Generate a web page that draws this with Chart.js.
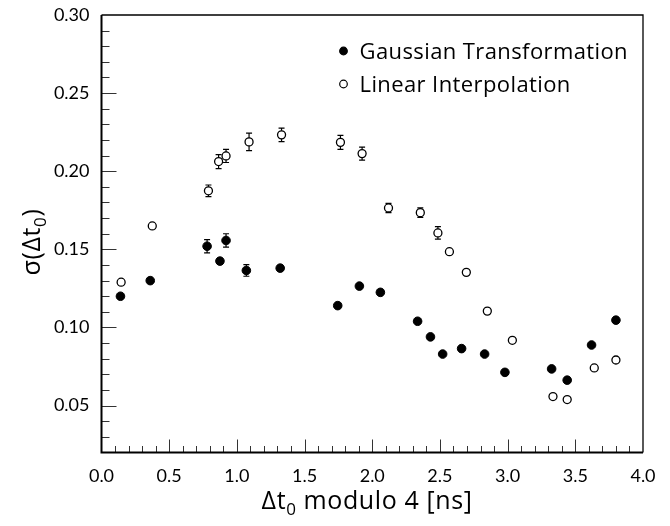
<!DOCTYPE html>
<html>
<head>
<meta charset="utf-8">
<script src="https://cdn.jsdelivr.net/npm/chart.js@4"></script>
<style>
  html, body { margin: 0; padding: 0; background: #fff; }
  #wrap { width: 670px; height: 526px; }
</style>
</head>
<body>
<div id="wrap"><canvas id="sigmaChart" width="670" height="526"></canvas></div>
<script>
// filled markers
const gaussX = [0.14, 0.36, 0.78, 0.875, 0.92, 1.07, 1.32, 1.745, 1.905, 2.06, 2.335, 2.43, 2.52, 2.66, 2.83, 2.98, 3.325, 3.44, 3.62, 3.80];
const gaussY = [0.120, 0.130, 0.152, 0.1425, 0.1557, 0.1365, 0.138, 0.114, 0.1265, 0.1225, 0.104, 0.094, 0.083, 0.0865, 0.083, 0.0713, 0.0735, 0.0663, 0.0888, 0.1047];
const gaussErr = [0.002, 0.002, 0.0043, 0.002, 0.0043, 0.0037, 0.002, 0.002, 0.002, 0.002, 0.002, 0.002, 0.002, 0.002, 0.002, 0.002, 0.002, 0.002, 0.002, 0.002];

// open markers
const linX = [0.145, 0.375, 0.79, 0.865, 0.92, 1.09, 1.33, 1.765, 1.925, 2.12, 2.355, 2.485, 2.57, 2.695, 2.85, 3.035, 3.335, 3.44, 3.64, 3.80];
const linY = [0.129, 0.165, 0.1875, 0.2062, 0.2098, 0.2188, 0.2233, 0.2185, 0.2113, 0.1765, 0.1735, 0.1605, 0.1485, 0.1353, 0.1105, 0.0918, 0.0558, 0.0539, 0.0741, 0.0792];
const linErr = [0.002, 0.0028, 0.0037, 0.0045, 0.0042, 0.0056, 0.0043, 0.0045, 0.0042, 0.003, 0.003, 0.004, 0.002, 0.002, 0.002, 0.002, 0.002, 0.002, 0.002, 0.002];

const seriesLabels = ['Gaussian Transformation', 'Linear Interpolation'];
const xTickValues = [0.0, 0.5, 1.0, 1.5, 2.0, 2.5, 3.0, 3.5, 4.0];
const yTickValues = [0.05, 0.10, 0.15, 0.20, 0.25, 0.30];

const TICK_FONT = 'Lato';
const TEXT_FONT = '"Open Sans"';

function toPoints(xs, ys, errs) {
    return xs.map((x, i) => ({ x: x, y: ys[i], err: errs[i] }));
}

// vertical error bars with caps, drawn under the markers
const errorBars = {
    id: 'errorBars',
    beforeDatasetsDraw(chart) {
        const { ctx, scales: { x, y } } = chart;
        ctx.save();
        ctx.strokeStyle = '#000';
        ctx.lineWidth = 1.2;
        chart.data.datasets.forEach(ds => {
            const r = ds.pointRadius;
            ds.data.forEach(p => {
                const px = x.getPixelForValue(p.x);
                const yTop = y.getPixelForValue(p.y + p.err);
                const yBot = y.getPixelForValue(p.y - p.err);
                if ((yBot - yTop) / 2 <= r + 0.5) return;
                ctx.beginPath();
                ctx.moveTo(px, yTop); ctx.lineTo(px, yBot);
                ctx.moveTo(px - 3, yTop); ctx.lineTo(px + 3, yTop);
                ctx.moveTo(px - 3, yBot); ctx.lineTo(px + 3, yBot);
                ctx.stroke();
            });
        });
        ctx.restore();
    }
};

// ROOT-like frame with inward ticks
const frameTicks = {
    id: 'frameTicks',
    beforeDatasetsDraw(chart) {
        const { ctx, chartArea: a, scales: { x, y } } = chart;
        ctx.save();
        ctx.strokeStyle = '#333';
        ctx.lineWidth = 1;
        for (let i = 1; i < 40; i++) {
            const px = Math.round(x.getPixelForValue(i / 10)) + 0.5;
            const len = i % 5 === 0 ? 13 : 6.5;
            ctx.beginPath(); ctx.moveTo(px, a.bottom); ctx.lineTo(px, a.bottom - len); ctx.stroke();
        }
        for (let i = 3; i < 30; i++) {
            const py = Math.round(y.getPixelForValue(i / 100)) + 0.5;
            const len = i % 5 === 0 ? 15 : 8;
            ctx.beginPath(); ctx.moveTo(a.left, py); ctx.lineTo(a.left + len, py); ctx.stroke();
        }
        ctx.strokeStyle = '#000';
        ctx.lineWidth = 1.3;
        ctx.beginPath();
        ctx.moveTo(a.left, a.top); ctx.lineTo(a.right, a.top); ctx.lineTo(a.right, a.bottom);
        ctx.stroke();
        ctx.lineWidth = 2;
        ctx.beginPath();
        ctx.moveTo(a.left, a.top); ctx.lineTo(a.left, a.bottom); ctx.lineTo(a.right, a.bottom);
        ctx.stroke();
        ctx.restore();
    }
};

// axis titles with subscripts + legend inside the frame
function drawPieces(ctx, pieces, x, y) {
    let cx = x;
    pieces.forEach(p => {
        ctx.font = p.size + 'px ' + TEXT_FONT;
        ctx.fillText(p.text, cx, y + (p.dy || 0));
        cx += ctx.measureText(p.text).width;
    });
}
function piecesWidth(ctx, pieces) {
    let w = 0;
    pieces.forEach(p => { ctx.font = p.size + 'px ' + TEXT_FONT; w += ctx.measureText(p.text).width; });
    return w;
}

const titlesLegend = {
    id: 'titlesLegend',
    afterDraw(chart) {
        const { ctx, chartArea: a } = chart;
        ctx.save();
        ctx.fillStyle = '#000';
        ctx.textBaseline = 'alphabetic';
        ctx.textAlign = 'left';
        ctx.letterSpacing = '0.6px';

        const xTitle = [
            { text: '\u0394t', size: 25 },
            { text: '0', size: 17, dy: 6 },
            { text: ' modulo 4 [ns]', size: 25 }
        ];
        const wx = piecesWidth(ctx, xTitle);
        drawPieces(ctx, xTitle, 367 - wx / 2, 509);

        const yTitle = [
            { text: '\u03c3(\u0394t', size: 25 },
            { text: '0', size: 17, dy: 6 },
            { text: ')', size: 25 }
        ];
        const wy = piecesWidth(ctx, yTitle);
        ctx.translate(40, 242);
        ctx.rotate(-Math.PI / 2);
        drawPieces(ctx, yTitle, -wy / 2, 0);
        ctx.setTransform(1, 0, 0, 1, 0, 0);

        // legend
        ctx.letterSpacing = '0.4px';
        const lx = a.left + 242;
        const rows = [a.top + 36, a.top + 69];
        ctx.font = '22px ' + TEXT_FONT;
        chart.data.datasets.forEach((ds, i) => {
            ctx.beginPath();
            ctx.arc(lx, rows[i], 3.8, 0, Math.PI * 2);
            ctx.fillStyle = ds.backgroundColor;
            ctx.fill();
            ctx.lineWidth = 1.2;
            ctx.strokeStyle = '#000';
            ctx.stroke();
            ctx.fillStyle = '#000';
            ctx.fillText(ds.label, lx + 16, rows[i] + 8);
        });
        ctx.restore();
    }
};

new Chart(document.getElementById('sigmaChart'), {
    type: 'scatter',
    data: {
        datasets: [
            {
                label: seriesLabels[0],
                data: toPoints(gaussX, gaussY, gaussErr),
                pointStyle: 'circle',
                pointRadius: 4.3,
                backgroundColor: '#000',
                borderColor: '#000',
                borderWidth: 1
            },
            {
                label: seriesLabels[1],
                data: toPoints(linX, linY, linErr),
                pointStyle: 'circle',
                pointRadius: 4,
                backgroundColor: '#fff',
                borderColor: '#000',
                borderWidth: 1.3
            }
        ]
    },
    options: {
        responsive: false,
        animation: false,
        layout: { padding: { top: 15, right: 27, left: 0, bottom: 0 } },
        plugins: {
            legend: { display: false },
            tooltip: { enabled: false }
        },
        scales: {
            x: {
                type: 'linear',
                min: 0,
                max: 4,
                afterBuildTicks: s => { s.ticks = xTickValues.map(v => ({ value: v })); },
                afterFit: s => { s.height = 73.5; },
                grid: { display: false },
                border: { display: false },
                ticks: {
                    padding: 5,
                    color: '#000',
                    maxRotation: 0,
                    font: { family: TICK_FONT, size: 18 },
                    callback: v => Number(v).toFixed(1)
                }
            },
            y: {
                type: 'linear',
                min: 0.02,
                max: 0.30,
                afterBuildTicks: s => { s.ticks = yTickValues.map(v => ({ value: v })); },
                afterFit: s => { s.width = 101.5; },
                grid: { display: false },
                border: { display: false },
                ticks: {
                    padding: 4,
                    color: '#000',
                    font: { family: TICK_FONT, size: 18 },
                    callback: v => Number(v).toFixed(2)
                }
            }
        }
    },
    plugins: [frameTicks, errorBars, titlesLegend]
});
</script>
</body>
</html>
